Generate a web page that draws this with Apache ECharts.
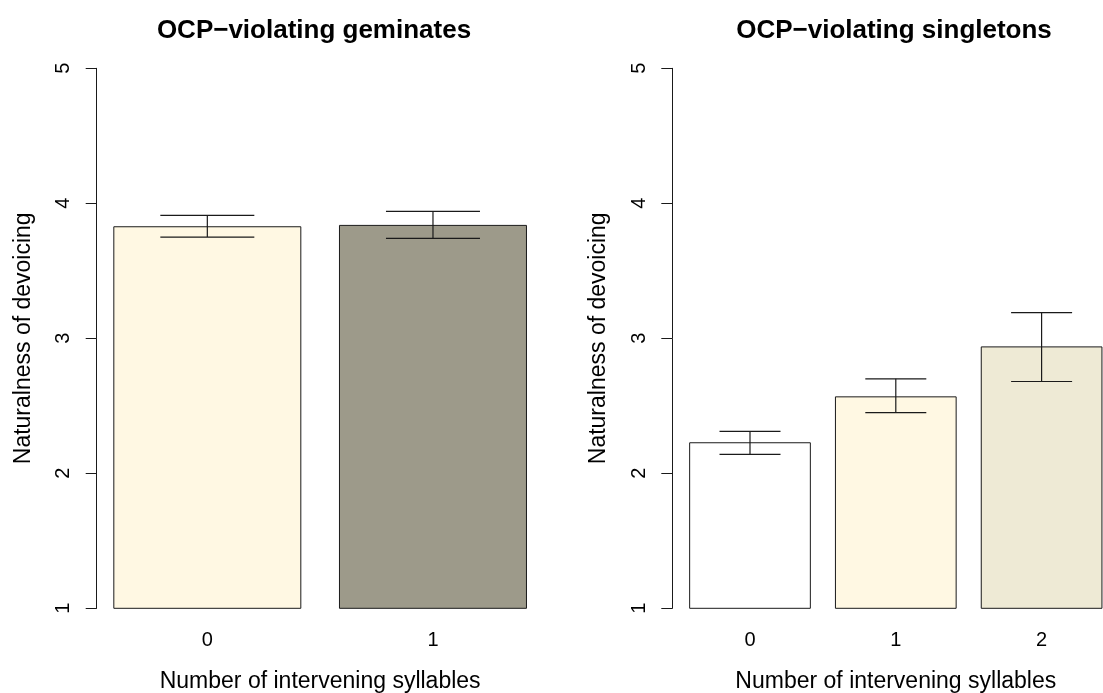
<!DOCTYPE html>
<html>
<head>
<meta charset="utf-8">
<script src="https://cdn.jsdelivr.net/npm/echarts@6/dist/echarts.min.js"></script>
<style>
html,body{margin:0;padding:0;background:#fff;}
#main{width:1103px;height:693px;}
</style>
</head>
<body>
<div id="main"></div>
<script>
// ---- data ----
const categoriesGem = ['0', '1'];
const meansGem = [3.83, 3.84];
const upperGem = [3.91, 3.94];
const lowerGem = [3.75, 3.74];
const colorsGem = ['#FFF8E3', '#9D9A8A'];

const categoriesSing = ['0', '1', '2'];
const meansSing = [2.23, 2.57, 2.94];
const upperSing = [2.31, 2.70, 3.19];
const lowerSing = [2.14, 2.45, 2.68];
const colorsSing = ['#FFFFFF', '#FFF8E3', '#EEEAD5'];

const yTicks = [1, 2, 3, 4, 5];
const titleGem = 'OCP\u2212violating geminates';
const titleSing = 'OCP\u2212violating singletons';
const xName = 'Number of intervening syllables';
const yName = 'Naturalness of devoicing';

const FONT = 'Liberation Sans, Arial, Helvetica, sans-serif';
const INK = '#1a1a1a';

const chart = echarts.init(document.getElementById('main'), null, {renderer: 'canvas'});

function errSeries(gridIdx, lower, upper, capHalf) {
  return {
    type: 'custom',
    xAxisIndex: gridIdx, yAxisIndex: gridIdx,
    data: lower.map((l, i) => [i, l, upper[i]]),
    renderItem: function (params, api) {
      const lo = api.coord([api.value(0), api.value(1)]);
      const hi = api.coord([api.value(0), api.value(2)]);
      const st = {stroke: INK, lineWidth: 1.2};
      return {
        type: 'group',
        children: [
          {type: 'line', shape: {x1: hi[0], y1: hi[1], x2: lo[0], y2: lo[1]}, style: st},
          {type: 'line', shape: {x1: hi[0] - capHalf, y1: hi[1], x2: hi[0] + capHalf, y2: hi[1]}, style: st},
          {type: 'line', shape: {x1: lo[0] - capHalf, y1: lo[1], x2: lo[0] + capHalf, y2: lo[1]}, style: st}
        ]
      };
    },
    z: 5
  };
}

function yAx(gridIdx, offset) {
  return {
    gridIndex: gridIdx, type: 'value', min: yTicks[0], max: yTicks[yTicks.length - 1], interval: 1,
    offset: offset,
    splitLine: {show: false},
    axisLine: {show: true, lineStyle: {color: INK, width: 1}},
    axisTick: {show: true, length: 11, lineStyle: {color: INK, width: 1}},
    axisLabel: {rotate: 90, margin: 23, fontSize: 20, color: '#000', fontFamily: FONT},
    name: yName, nameLocation: 'middle', nameRotate: 90, nameGap: 62,
    nameTextStyle: {fontSize: 23, color: '#000', fontFamily: FONT}
  };
}

function xAx(gridIdx, cats) {
  return {
    gridIndex: gridIdx, type: 'category', data: cats,
    axisLine: {show: false}, axisTick: {show: false},
    axisLabel: {margin: 22, fontSize: 20, color: '#000', fontFamily: FONT},
    name: xName, nameLocation: 'middle', nameGap: 62,
    nameTextStyle: {fontSize: 23, color: '#000', fontFamily: FONT}
  };
}

const option = {
  backgroundColor: '#fff',
  animation: false,
  title: [
    {text: titleGem, left: 309, top: 13, textAlign: 'center',
     textStyle: {fontSize: 26, fontWeight: 'bold', color: '#000', fontFamily: FONT}},
    {text: titleSing, left: 889, top: 13, textAlign: 'center',
     textStyle: {fontSize: 26, fontWeight: 'bold', color: '#000', fontFamily: FONT}}
  ],
  grid: [
    {left: 94.5, width: 451.3, top: 68.3, height: 540, containLabel: false, outerBoundsMode: 'none'},
    {left: 677.1, width: 437.4, top: 68.3, height: 540, containLabel: false, outerBoundsMode: 'none'}
  ],
  xAxis: [xAx(0, categoriesGem), xAx(1, categoriesSing)],
  yAxis: [yAx(0, -2.2), yAx(1, 4.8)],
  series: [
    {
      type: 'bar', xAxisIndex: 0, yAxisIndex: 0, barWidth: 188,
      data: meansGem.map((v, i) => ({value: v, itemStyle: {color: colorsGem[i]}})),
      itemStyle: {borderColor: INK, borderWidth: 1}
    },
    errSeries(0, lowerGem, upperGem, 47),
    {
      type: 'bar', xAxisIndex: 1, yAxisIndex: 1, barWidth: 121.7,
      data: meansSing.map((v, i) => ({value: v, itemStyle: {color: colorsSing[i]}})),
      itemStyle: {borderColor: INK, borderWidth: 1}
    },
    errSeries(1, lowerSing, upperSing, 30.5)
  ]
};
chart.setOption(option);
</script>
</body>
</html>
